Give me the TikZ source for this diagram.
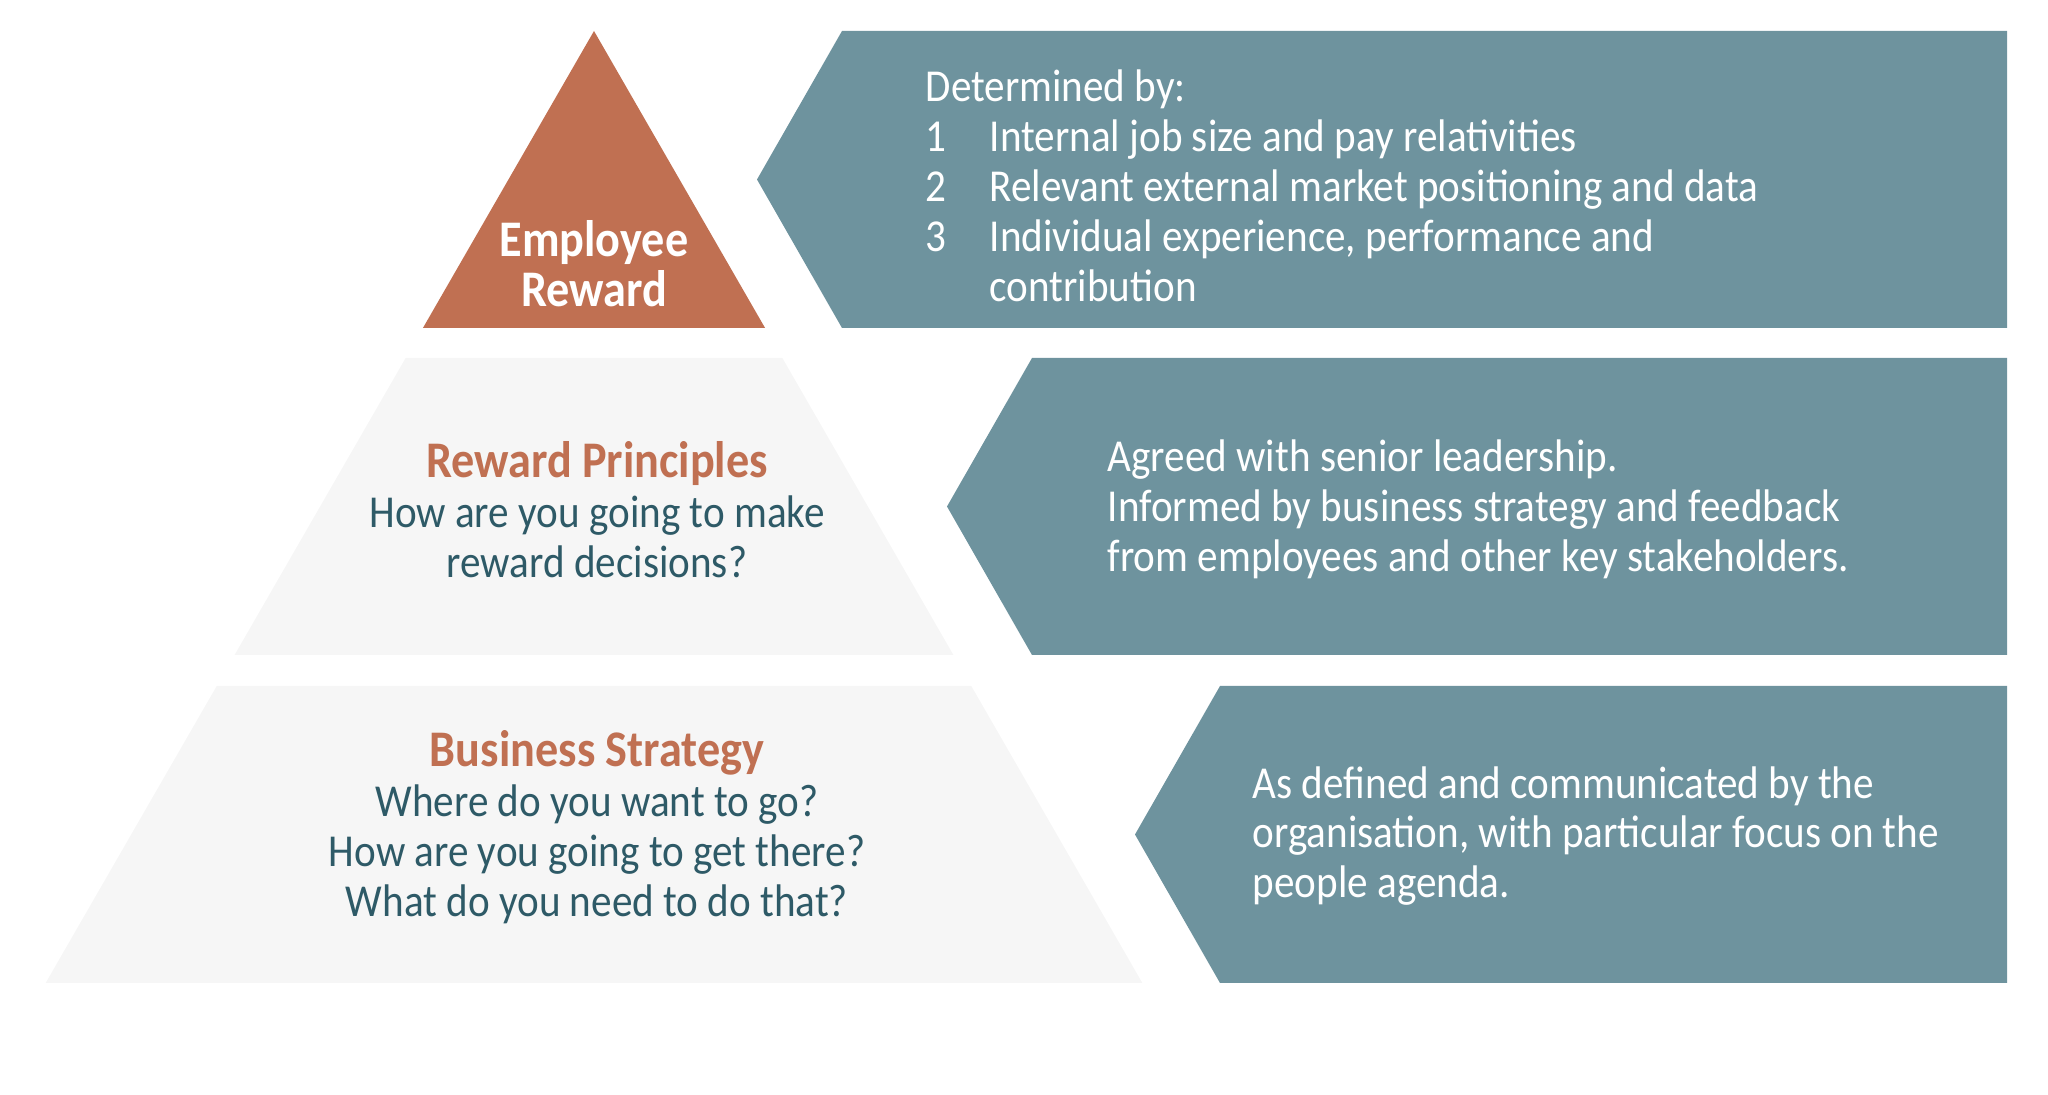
\documentclass[tikz,border=0pt]{standalone}
\usepackage{fontspec}
\setmainfont[FakeStretch=0.9]{Carlito}
\usetikzlibrary{calc}
\definecolor{rewardorange}{HTML}{C07052}
\definecolor{chevronteal}{HTML}{6E939E}
\definecolor{tiergrey}{HTML}{F6F6F6}
\definecolor{textteal}{HTML}{2E5A67}
% one slice of the pyramid between two heights
\newcommand\PyramidBand[3][tiergrey]{%
  \pgfmathsetmacro\xtop{\slope*(#2-\apexY)}%
  \pgfmathsetmacro\xbot{\slope*(#3-\apexY)}%
  \fill[#1] (\apexX-\xtop,#2) -- (\apexX+\xtop,#2)
    -- (\apexX+\xbot,#3) -- (\apexX-\xbot,#3) -- cycle;
}
% box with a point on its left side
\newcommand\Chevron[3]{% corner x, top y, bottom y
  \fill[chevronteal] (#1,#2) -- (\rightX,#2) -- (\rightX,#3)
    -- (#1,#3) -- (#1-\tipW,{(#2+#3)/2}) -- cycle;
}
\tikzset{
  tiertext/.style={align=center, inner sep=0pt, text=textteal,
    font=\fontsize{13}{14.2}\selectfont},
  boxtext/.style={align=left, anchor=west, inner sep=0pt, text=white,
    font=\fontsize{13}{14.2}\selectfont},
}
\newcommand\num[1]{\makebox[18.2pt][l]{#1}}
\newcommand\tierhead[1]{\textcolor{rewardorange}{\bfseries\fontsize{14.6}{14.2}\selectfont #1}}
\begin{document}
\begin{tikzpicture}[x=0.01cm, y=-0.01cm]

\def\apexX{594} % top of the pyramid
\def\apexY{31}
\def\slope{0.576} % half width per unit of height
\def\rightX{2007} % right edge of the boxes
\def\tipW{85} % depth of the point

\useasboundingbox (0,0) rectangle (2048,1095);

% the pyramid
\PyramidBand[rewardorange]{31}{328}
\PyramidBand{358}{655}
\PyramidBand{686}{983}

% the boxes
\foreach \c/\t/\b in {842/31/328, 1032/358/655, 1220/686/983}
  { \Chevron{\c}{\t}{\b} }

\node[tiertext, text=white, font=\bfseries\fontsize{14.6}{14.2}\selectfont]
  (employee) at (594,264) {Employee\\Reward};
\node[tiertext] (principles) at (597,510)
  {\tierhead{Reward Principles}\\
   How are you going to make\\reward decisions?};
\node[tiertext] (strategy) at (597,827)
  {\tierhead{Business Strategy}\\
   Where do you want to go?\\How are you going to get there?\\
   What do you need to do that?};

\node[boxtext] (determined) at (925,186)
  {Determined by:\\
   \num{1}Internal job size and pay relativities\\
   \num{2}Relevant external market positioning and data\\
   \num{3}Individual experience, performance and\\
   \num{}contribution};
\node[boxtext] (agreed) at (1107,509)
  {Agreed with senior leadership.\\
   Informed by business strategy and feedback\\
   from employees and other key stakeholders.};
\node[boxtext] (defined) at (1252,836)
  {As defined and communicated by the\\
   organisation, with particular focus on the\\
   people agenda.};
\end{tikzpicture}
\end{document}
